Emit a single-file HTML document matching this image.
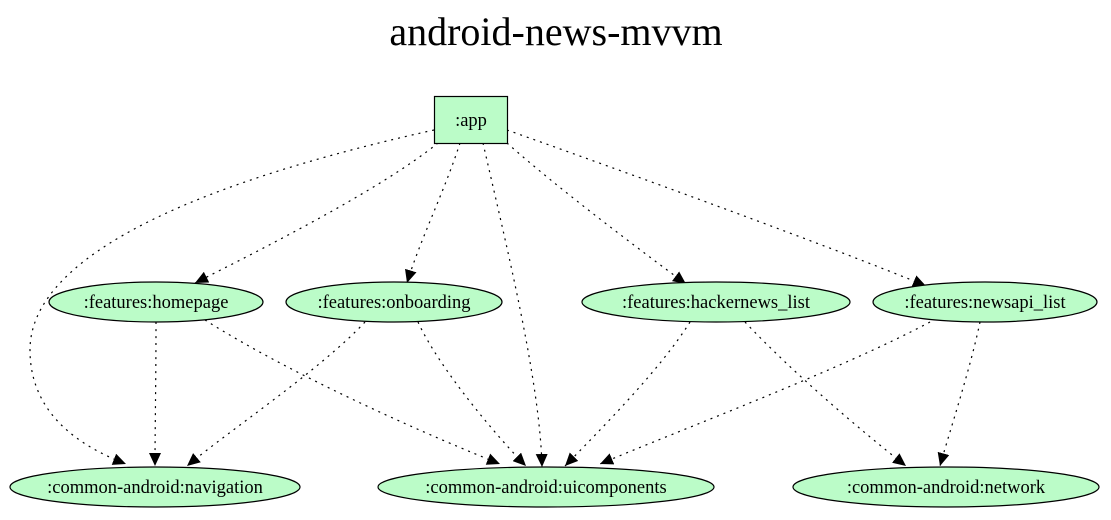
<!DOCTYPE html>
<html><head><meta charset="utf-8"><style>
html,body{margin:0;padding:0;background:#fff;}
svg text{font-family:"Liberation Serif",serif;}
</style></head><body>
<svg width="1111" height="515" viewBox="0 0 1111 515" xmlns="http://www.w3.org/2000/svg">
<defs>
<marker id="a" markerWidth="14" markerHeight="12" refX="13" refY="6" orient="auto" markerUnits="userSpaceOnUse">
<path d="M0,0 L13,6 L0,12 Z" fill="#000"/>
</marker>
</defs>
<text x="556" y="45" font-size="40" text-anchor="middle">android-news-mvvm</text>
<g fill="none" stroke="#000" stroke-width="1.2" stroke-dasharray="2,5" marker-end="url(#a)">
<path d="M434,130 C300,160 30,230 30,350 C30,420 90,450 126,464"/>
<path d="M438,143 C380,190 260,250 195,283"/>
<path d="M460,143 C445,190 420,240 407,283"/>
<path d="M483,143 C505,240 540,380 542,467"/>
<path d="M507,143 C560,190 640,250 686,284"/>
<path d="M507,130 C620,170 840,250 926,286"/>
<path d="M156,322 C156,380 155,430 155,466"/>
<path d="M205,320 C300,380 440,440 500,464"/>
<path d="M365,322 C320,370 230,430 187,466"/>
<path d="M418,322 C440,370 500,440 526,466"/>
<path d="M690,322 C660,370 600,430 565,466"/>
<path d="M745,322 C790,370 860,430 906,466"/>
<path d="M930,322 C840,370 680,430 600,464"/>
<path d="M980,322 C970,370 950,430 940,466"/>
</g>
<g fill="#bbfcc8" stroke="#000" stroke-width="1.2">
<rect x="434.5" y="96.5" width="73" height="47"/>
<ellipse cx="156" cy="302" rx="107" ry="20"/>
<ellipse cx="394" cy="302" rx="108" ry="20"/>
<ellipse cx="716" cy="302" rx="134" ry="20"/>
<ellipse cx="985" cy="302" rx="112" ry="20"/>
<ellipse cx="155" cy="487" rx="145" ry="20"/>
<ellipse cx="546" cy="487" rx="168" ry="20"/>
<ellipse cx="946" cy="487" rx="153" ry="20"/>
</g>
<g font-size="18.5" text-anchor="middle">
<text x="471" y="126">:app</text>
<text x="156" y="308">:features:homepage</text>
<text x="394" y="308">:features:onboarding</text>
<text x="716" y="308">:features:hackernews_list</text>
<text x="985" y="308">:features:newsapi_list</text>
<text x="155" y="493">:common-android:navigation</text>
<text x="546" y="493">:common-android:uicomponents</text>
<text x="946" y="493">:common-android:network</text>
</g>
</svg>
</body></html>
